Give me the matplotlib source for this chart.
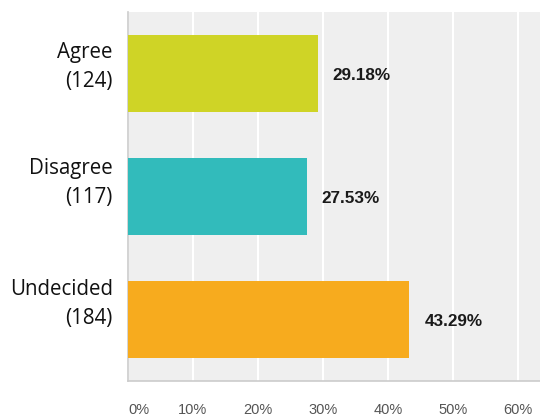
import matplotlib.pyplot as plt

categories = ['Agree', 'Disagree', 'Undecided']
counts = [124, 117, 184]
percents = [29.18, 27.53, 43.29]
colors = ['#cfd426', '#32bbbb', '#f7ab1e']
xticks = [0, 10, 20, 30, 40, 50, 60]

fig = plt.figure(figsize=(5.4, 4.19), dpi=100)
ax = fig.add_axes([0.237, 0.0907, 0.763, 0.8807])
ax.set_facecolor('#efefef')

ypos = list(range(len(categories)))
ax.barh(ypos, percents, height=0.626, color=colors, zorder=3)

# value labels to the right of each bar
for y, p in zip(ypos, percents):
    ax.text(p + 2.3, y + 0.02, f'{p:.2f}%', va='center', ha='left',
            fontsize=12.3, fontweight='bold', color='#1a1a1a',
            family='Liberation Sans', zorder=4)

ax.set_xlim(0, 63.4)
ax.set_ylim(2.5, -0.5)
ax.set_xticks(xticks)
ax.set_xticklabels([f'{t}%' for t in xticks], fontsize=10.5, color='#555555',
                   family='Liberation Sans')
ax.get_xticklabels()[0].set_horizontalalignment('left')
ax.xaxis.grid(True, color='white', linewidth=1.5, zorder=1)
ax.set_axisbelow(True)

# category labels, sitting a little above the bar centres like the original
ax.set_yticks(ypos)
ax.set_yticklabels([])
shifts = [4.5, 10, 11]  # points
for y, c, n, s in zip(ypos, categories, counts, shifts):
    ax.annotate(f'{c}\n({n})', xy=(0, y), xycoords=('axes fraction', 'data'),
                xytext=(-11, s), textcoords='offset points',
                ha='right', va='center', multialignment='right',
                fontsize=14.8, family='Open Sans', color='#111111',
                linespacing=1.5)

ax.tick_params(axis='both', length=0)
ax.tick_params(axis='x', pad=16)

for side in ['top', 'right']:
    ax.spines[side].set_visible(False)
for side in ['left', 'bottom']:
    ax.spines[side].set_color('#cccccc')
    ax.spines[side].set_linewidth(1.2)

fig.savefig('out.png', dpi=100)
